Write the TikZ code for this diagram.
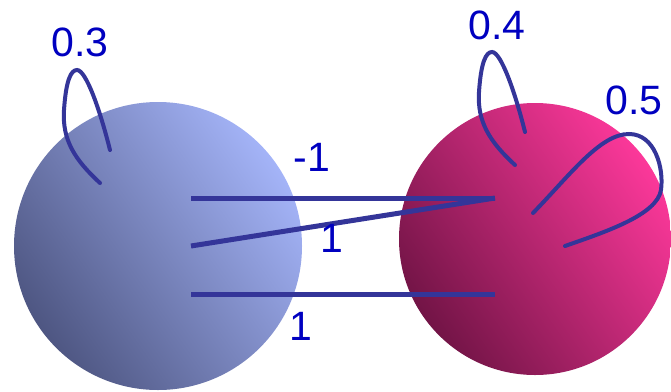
\documentclass[tikz,border=0pt]{standalone}
\usepackage{fontspec}
\setmainfont{Liberation Sans}
\definecolor{wire}{HTML}{343599}
\definecolor{lbl}{HTML}{0000C0}
\definecolor{bdark}{HTML}{4E5682}
\definecolor{blight}{HTML}{A4B4F8}
\definecolor{mdark}{HTML}{721446}
\definecolor{mlight}{HTML}{FC389A}
\begin{document}
\begin{tikzpicture}[x=1pt,y=-1pt,
  wireline/.style={draw=wire,line width=5pt},
  loopline/.style={draw=wire,line width=4pt,line cap=round},
  weight/.style={text=lbl,font=\fontsize{41}{41}\selectfont,inner sep=0pt}]
\useasboundingbox (0,0) rectangle (671,391);
% spheres
\shade[left color=blight,right color=bdark,shading angle=-55] (158,246) circle[radius=144];
\shade[left color=mlight,right color=mdark,shading angle=-55] (535,239) circle[radius=136];
% connector endpoints
\coordinate (a1) at (191,198);
\coordinate (a2) at (191,246);
\coordinate (a3) at (191,294);
\coordinate (b1) at (495,198);
\coordinate (b3) at (495,294);
\draw[wireline] (a1) -- (b1);
\draw[wireline] (a2) -- (b1);
\draw[wireline] (a3) -- (b3);
% self loops
\draw[loopline] (100,183) .. controls (75,160) and (62,140) .. (64,110)
  .. controls (66,80) and (71,70) .. (77,70) .. controls (86,70) and (100,110) .. (110,150);
\draw[loopline] (515,165) .. controls (490,142) and (477,122) .. (479,92)
  .. controls (481,62) and (486,52) .. (492,52) .. controls (501,52) and (515,92) .. (525,132);
\draw[loopline] (533,213) .. controls (570,175) and (600,134) .. (629,134)
  .. controls (655,134) and (664,168) .. (661,190) .. controls (657,215) and (605,232) .. (565,246);
% labels
\node[weight] (w3) at (80,42) {0.3};
\node[weight] (w4) at (497,25) {0.4};
\node[weight] (w5) at (634,100) {0.5};
\node[weight] (m1) at (312,157) {-1};
\node[weight] (p1) at (332,238) {1};
\node[weight] (p2) at (301,326) {1};
\end{tikzpicture}
\end{document}
